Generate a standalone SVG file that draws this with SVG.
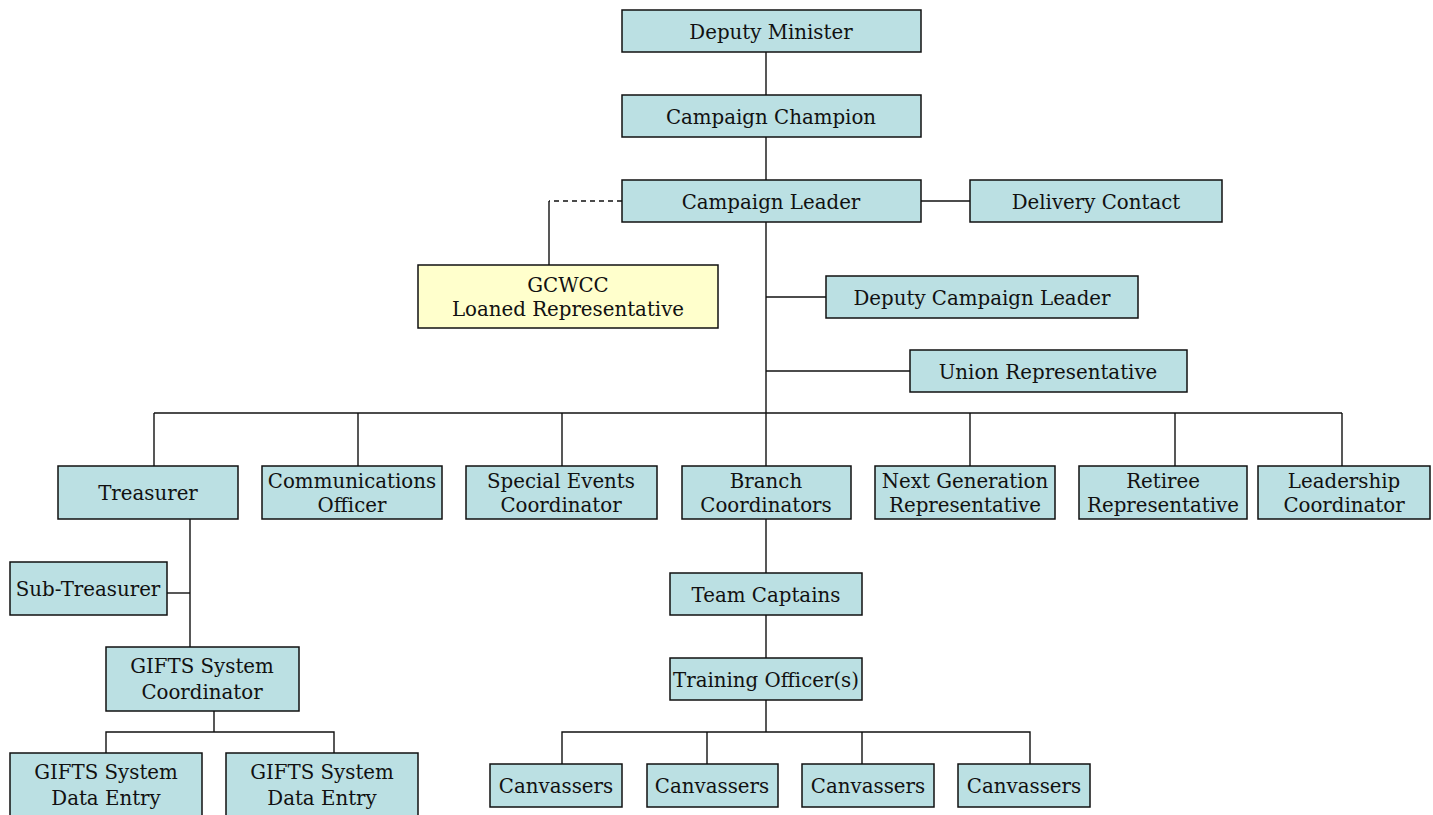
<svg xmlns="http://www.w3.org/2000/svg" width="1433" height="815" viewBox="0 0 1433 815">
<style>
.b{fill:#bbe0e3;stroke:#111;stroke-width:1.5}
.y{fill:#ffffcc;stroke:#111;stroke-width:1.5}
text{font-family:"DejaVu Serif","Liberation Serif",serif;font-size:19.8px;fill:#111;text-anchor:middle}
.c line,.c path{stroke:#111;stroke-width:1.4;fill:none}
</style>
<rect width="1433" height="815" fill="#fff"/>
<g class="c" id="connectors">
<line x1="766" y1="52" x2="766" y2="95"/>
<line x1="766" y1="137" x2="766" y2="180"/>
<line x1="921" y1="201" x2="970" y2="201"/>
<line x1="622" y1="201" x2="549" y2="201" stroke-dasharray="5,4"/>
<line x1="549" y1="201" x2="549" y2="265"/>
<line x1="766" y1="222" x2="766" y2="413"/>
<line x1="766" y1="297" x2="826" y2="297"/>
<line x1="766" y1="371" x2="910" y2="371"/>
<line x1="154" y1="413" x2="1342" y2="413"/>
<line x1="154" y1="413" x2="154" y2="466"/>
<line x1="358" y1="413" x2="358" y2="466"/>
<line x1="562" y1="413" x2="562" y2="466"/>
<line x1="766" y1="413" x2="766" y2="466"/>
<line x1="970" y1="413" x2="970" y2="466"/>
<line x1="1175" y1="413" x2="1175" y2="466"/>
<line x1="1342" y1="413" x2="1342" y2="466"/>
<line x1="190" y1="519" x2="190" y2="647"/>
<line x1="167" y1="593" x2="190" y2="593"/>
<line x1="214" y1="711" x2="214" y2="732"/>
<path d="M106,753 V732 H334 V753"/>
<line x1="766" y1="519" x2="766" y2="573"/>
<line x1="766" y1="615" x2="766" y2="658"/>
<line x1="766" y1="700" x2="766" y2="732"/>
<path d="M562,764 V732 H1030 V764"/>
<line x1="707" y1="732" x2="707" y2="764"/>
<line x1="862" y1="732" x2="862" y2="764"/>
</g>
<g id="deputy-minister"><rect class="b" x="622" y="10" width="299" height="42"/><text x="771" y="39">Deputy Minister</text></g>
<g id="campaign-champion"><rect class="b" x="622" y="95" width="299" height="42"/><text x="771" y="124">Campaign Champion</text></g>
<g id="campaign-leader"><rect class="b" x="622" y="180" width="299" height="42"/><text x="771" y="209">Campaign Leader</text></g>
<g id="delivery-contact"><rect class="b" x="970" y="180" width="252" height="42"/><text x="1096" y="209">Delivery Contact</text></g>
<g id="gcwcc"><rect class="y" x="418" y="265" width="300" height="63"/><text x="568" y="292">GCWCC</text><text x="568" y="316">Loaned Representative</text></g>
<g id="deputy-campaign-leader"><rect class="b" x="826" y="276" width="312" height="42"/><text x="982" y="305">Deputy Campaign Leader</text></g>
<g id="union-representative"><rect class="b" x="910" y="350" width="277" height="42"/><text x="1048" y="379">Union Representative</text></g>
<g id="treasurer"><rect class="b" x="58" y="466" width="180" height="53"/><text x="148" y="500">Treasurer</text></g>
<g id="communications-officer"><rect class="b" x="262" y="466" width="180" height="53"/><text x="352" y="488">Communications</text><text x="352" y="512">Officer</text></g>
<g id="special-events"><rect class="b" x="466" y="466" width="191" height="53"/><text x="561" y="488">Special Events</text><text x="561" y="512">Coordinator</text></g>
<g id="branch-coordinators"><rect class="b" x="682" y="466" width="169" height="53"/><text x="766" y="488">Branch</text><text x="766" y="512">Coordinators</text></g>
<g id="next-generation"><rect class="b" x="875" y="466" width="180" height="53"/><text x="965" y="488">Next Generation</text><text x="965" y="512">Representative</text></g>
<g id="retiree"><rect class="b" x="1079" y="466" width="168" height="53"/><text x="1163" y="488">Retiree</text><text x="1163" y="512">Representative</text></g>
<g id="leadership"><rect class="b" x="1258" y="466" width="172" height="53"/><text x="1344" y="488">Leadership</text><text x="1344" y="512">Coordinator</text></g>
<g id="sub-treasurer"><rect class="b" x="10" y="562" width="157" height="53"/><text x="88" y="596">Sub-Treasurer</text></g>
<g id="gifts-coordinator"><rect class="b" x="106" y="647" width="193" height="64"/><text x="202" y="673">GIFTS System</text><text x="202" y="699">Coordinator</text></g>
<g id="gifts-data-entry-1"><rect class="b" x="10" y="753" width="192" height="64"/><text x="106" y="779">GIFTS System</text><text x="106" y="805">Data Entry</text></g>
<g id="gifts-data-entry-2"><rect class="b" x="226" y="753" width="192" height="64"/><text x="322" y="779">GIFTS System</text><text x="322" y="805">Data Entry</text></g>
<g id="team-captains"><rect class="b" x="670" y="573" width="192" height="42"/><text x="766" y="602">Team Captains</text></g>
<g id="training-officers"><rect class="b" x="670" y="658" width="192" height="42"/><text x="766" y="687">Training Officer(s)</text></g>
<g id="canvassers-1"><rect class="b" x="490" y="764" width="132" height="43"/><text x="556" y="793">Canvassers</text></g>
<g id="canvassers-2"><rect class="b" x="647" y="764" width="131" height="43"/><text x="712" y="793">Canvassers</text></g>
<g id="canvassers-3"><rect class="b" x="802" y="764" width="132" height="43"/><text x="868" y="793">Canvassers</text></g>
<g id="canvassers-4"><rect class="b" x="958" y="764" width="132" height="43"/><text x="1024" y="793">Canvassers</text></g>
</svg>
